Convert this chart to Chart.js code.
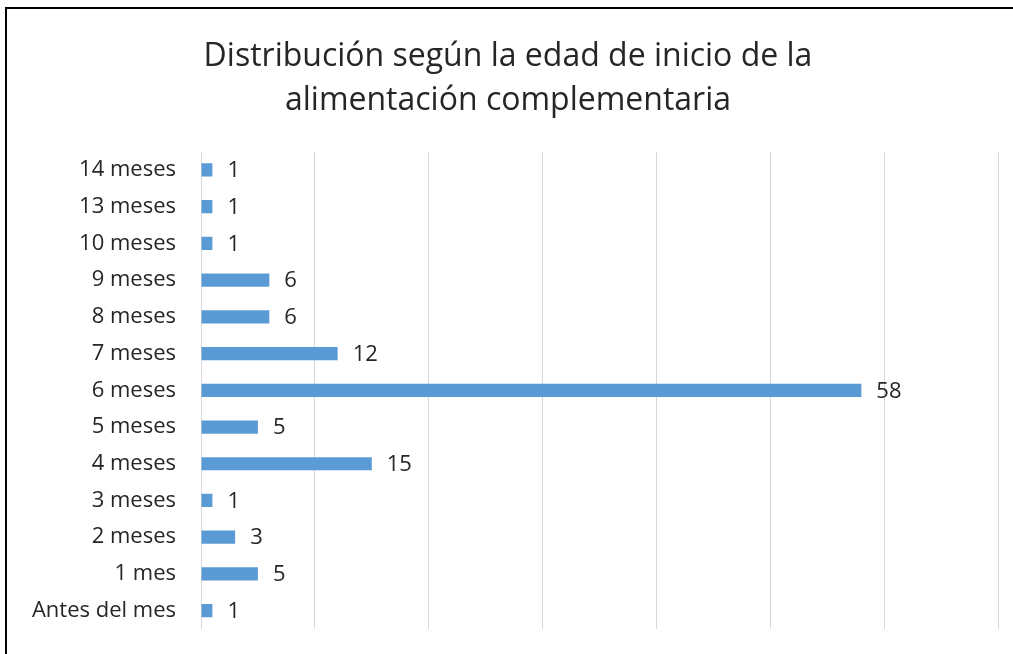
<!DOCTYPE html>
<html lang="es">
<head>
  <meta charset="UTF-8"/>
  <title>Distribución según la edad de inicio de la alimentación complementaria</title>
  <script src="https://cdn.jsdelivr.net/npm/chart.js"></script>
  <style>
    html, body { margin: 0; padding: 0; background: #fff; overflow: hidden; }
    #frame { position: absolute; left: 5px; top: 7px; width: 1008px; height: 647px;
             border-left: 2px solid #000; border-top: 2px solid #000; }
    #wrap { position: absolute; left: 0; top: 0; width: 1013px; height: 654px; }
  </style>
</head>
<body>
  <div id="frame"></div>
  <div id="wrap"><canvas id="chart"></canvas></div>

  <script>
    const categories = ['14 meses', '13 meses', '10 meses', '9 meses', '8 meses', '7 meses',
                        '6 meses', '5 meses', '4 meses', '3 meses', '2 meses', '1 mes', 'Antes del mes'];
    const counts = [1, 1, 1, 6, 6, 12, 58, 5, 15, 1, 3, 5, 1];
    const titleLines = ['Distribución según la edad de inicio de la', 'alimentación complementaria'];

    const textColor = '#262626';
    const fontFamily = '"Open Sans", Lato, sans-serif';

    // value labels to the right of each bar
    const barLabels = {
      id: 'barLabels',
      afterDatasetsDraw(chart) {
        const ctx = chart.ctx;
        const meta = chart.getDatasetMeta(0);
        ctx.save();
        ctx.fillStyle = textColor;
        ctx.font = '22px ' + fontFamily;
        ctx.textAlign = 'left';
        ctx.textBaseline = 'middle';
        meta.data.forEach((bar, i) => {
          ctx.fillText(String(counts[i]), bar.x + 15, bar.y + 1);
        });
        ctx.restore();
      }
    };

    const ctx = document.getElementById('chart').getContext('2d');
    new Chart(ctx, {
      type: 'bar',
      data: {
        labels: categories,
        datasets: [{
          data: counts,
          backgroundColor: '#5B9BD5',
          borderWidth: 0,
          barPercentage: 0.36,
          categoryPercentage: 1
        }]
      },
      options: {
        indexAxis: 'y',
        responsive: true,
        maintainAspectRatio: false,
        animation: false,
        layout: { padding: { left: 18, right: 15, top: 0, bottom: 25 } },
        plugins: {
          legend: { display: false },
          tooltip: { enabled: false },
          title: {
            display: true,
            text: titleLines,
            color: textColor,
            font: { family: fontFamily, size: 32, weight: 'normal', lineHeight: 1.4 },
            padding: { top: 34, bottom: 28 }
          }
        },
        scales: {
          x: {
            min: 0, max: 70,
            ticks: { display: false, stepSize: 10 },
            grid: { color: '#D9D9D9', lineWidth: 1, drawTicks: false },
            border: { display: false },
            afterFit(scale) { scale.height = 0; }
          },
          y: {
            grid: { display: false, drawTicks: false },
            border: { display: false },
            ticks: {
              color: textColor,
              font: { family: fontFamily, size: 22 },
              padding: 25
            },
            afterFit(scale) {
              scale.width = 183;
              scale.paddingTop = 0;
              scale.paddingBottom = 0;
            }
          }
        }
      },
      plugins: [barLabels]
    });
  </script>
</body>
</html>
